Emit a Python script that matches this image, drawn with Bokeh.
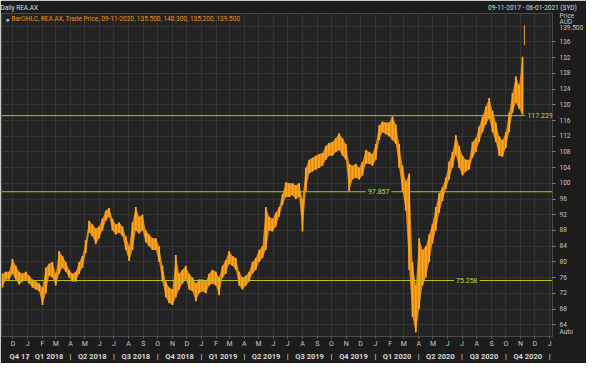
import pandas as pd
from bokeh.plotting import figure
from bokeh.models import (Range1d, FixedTicker, SingleIntervalTicker, DatetimeAxis,
                          Span, Label, ColumnDataSource)
from bokeh.embed import file_html
from bokeh.resources import INLINE

# ---------------- data ----------------
week_start = "2017-11-09"          # first weekly bar, then every 7 days
lows = [73.5, 75.5, 75.5, 77, 75.5, 74.25, 75, 75.5, 74.5, 73.5,
        73, 72.5, 69, 72, 76.5, 76, 74, 77, 78.5, 77.5,
        76, 75, 75, 77, 78.5, 82.25, 87.5, 86.5, 84.5, 86,
        88, 90.5, 91.5, 88, 87, 87.5, 86.5, 83, 80.25, 83,
        88, 87.25, 88, 85, 84, 83, 83, 80, 75, 71,
        69.5, 69, 71, 73, 74.5, 75.5, 73, 72.5, 70, 72,
        72.5, 72, 74, 74.5, 74, 71.5, 76, 77, 79.5, 79,
        78, 74, 73, 74, 75, 77, 78, 80, 81, 83,
        88, 87.75, 89, 91.5, 94.5, 96.5, 96.5, 97, 96, 96.5,
        87.75, 98, 102.5, 103, 103.5, 104, 104.5, 106, 107, 107,
        108, 108.5, 107, 106, 98, 101, 101.5, 101, 102, 105,
        105, 104.5, 106, 111, 113, 112.5, 112, 111, 110, 104,
        98, 93, 78, 66, 62, 68, 74, 76, 80, 84.75,
        88, 92.5, 95.5, 98.5, 101, 104, 107.25, 104, 102, 103,
        103.5, 106.5, 108, 110.5, 113, 115, 116.5, 113, 110.5, 107,
        106.75, 109, 113, 118, 120.5, 119, 117.5]
highs = [77, 77.5, 77.5, 80.75, 79, 77.5, 77, 77.5, 76.5, 75.5,
         75, 74.5, 73.5, 78.5, 79.5, 80, 77, 82.75, 81.5, 80,
         78, 77, 77.5, 80, 81.5, 85.5, 90.5, 89.5, 88.5, 89,
         91, 93, 93.75, 91, 89.5, 90, 89, 86.5, 84, 90,
         94, 91.5, 92, 88, 87, 86, 86, 84, 79, 75,
         73.5, 73, 81.75, 77, 78, 79, 77, 76, 74.5, 75.5,
         75.5, 75, 77, 78, 77.5, 76, 79, 80.5, 82.75, 81.5,
         81, 77.5, 76, 76.5, 77.5, 80, 81, 83, 84, 94,
         91.5, 91, 92.5, 94, 97.25, 100.25, 100, 100, 99.5, 100,
         96, 104, 106, 106.5, 107, 107.5, 107.75, 109.5, 110.25, 110.5,
         111.5, 112.75, 111.5, 110, 105, 104.5, 105, 104, 105.5, 108.5,
         108, 107.5, 110, 114.75, 115.75, 115.5, 115.5, 117, 115, 110,
         104.5, 100.5, 102.5, 80, 74, 86, 83, 84, 87, 89.75,
         94, 97.5, 99, 101.5, 105.5, 108, 112.25, 109.5, 107, 106,
         106, 110.5, 111.5, 114.5, 117, 119.5, 121.75, 118.5, 115.5, 112,
         111, 113, 118, 123, 127.25, 125, 132.25]

last_bar_date = "2020-11-09"
last_open, last_high, last_low, last_close = 135.5, 140.3, 135.2, 139.5

levels = [117.229, 97.857, 75.258]
level_label_dates = ["2020-12-12", "2020-01-08", "2020-07-11"]

title_text = "Daily REA.AX"
range_text = "09-11-2017 - 06-01-2021 (SYD)"
header_label_dates = ["2017-12-04", "2020-11-26"]

y_ticks = [64, 68, 72, 76, 80, 84, 88, 92, 96, 100, 104, 108, 112, 116,
           120, 124, 128, 132, 136]
side_labels = ["Price", "AUD", "Auto"]
side_label_levels = [142.7, 141.0, 62.2]
month_labels = ["D", "J", "F", "M", "A", "M", "J", "J", "A", "S", "O", "N",
                "D", "J", "F", "M", "A", "M", "J", "J", "A", "S", "O", "N",
                "D", "J", "F", "M", "A", "M", "J", "J", "A", "S", "O", "N",
                "D", "J"]
quarter_labels = ["Q4 17", "Q1 2018", "Q2 2018", "Q3 2018", "Q4 2018",
                  "Q1 2019", "Q2 2019", "Q3 2019", "Q4 2019",
                  "Q1 2020", "Q2 2020", "Q3 2020", "Q4 2020"]

# ---------------- styling ----------------
BG = "#232323"
BORDER = "#1c1c1c"
GRID = "#343434"
TXT = "#c8c8c8"
ORANGE = "#ffa726"
ORANGE_D = "#dc8812"
YEL = "#bebe1e"
FONT = "Roboto"


def ms(t):
    return int(pd.Timestamp(t).value // 10**6)


dates = pd.date_range(week_start, periods=len(lows), freq="7D")
src = ColumnDataSource(dict(x=dates, lo=lows, hi=highs))

p = figure(width=586, height=363, x_axis_type="datetime", y_axis_location="right",
           output_backend="svg", toolbar_location=None, title_location=None,
           x_range=Range1d(pd.Timestamp("2017-11-07"), pd.Timestamp("2021-01-07")),
           y_range=Range1d(61, 143.25),
           min_border_left=1, min_border_right=28, min_border_top=10,
           min_border_bottom=24)
p.background_fill_color = BG
p.border_fill_color = BORDER
p.outline_line_color = "#4a4a4a"


def bare(axis):
    axis.axis_line_color = None
    axis.major_tick_line_color = None
    axis.minor_tick_line_color = None
    axis.major_tick_in = 0
    axis.major_tick_out = 0
    axis.minor_tick_in = 0
    axis.minor_tick_out = 0
    axis.major_label_text_font = FONT


# ---- month axis (below) ----
month_pos = [ms(t) for t in pd.date_range("2017-12-01", periods=len(month_labels), freq="MS")]
month_ticker = FixedTicker(ticks=month_pos)
ax = p.xaxis[0]
bare(ax)
ax.ticker = month_ticker
ax.major_label_overrides = {m: l for m, l in zip(month_pos, month_labels)}
ax.major_tick_line_color = "#6a6a6a"
ax.major_tick_out = 2
ax.major_label_text_font_size = "7px"
ax.major_label_text_color = TXT
ax.major_label_standoff = 1

# ---- quarter axis (below) ----
q_starts = pd.date_range("2018-01-01", "2021-01-01", freq="QS")
q_mid = [ms("2017-12-15")] + [ms(a + (b - a) / 2) for a, b in zip(q_starts[:-1], q_starts[1:])]
q_sep = [ms(t) for t in q_starts]
q_over = {m: l for m, l in zip(q_mid, quarter_labels)}
q_over.update({s: "|" for s in q_sep})
qax = DatetimeAxis(ticker=FixedTicker(ticks=q_mid + q_sep), major_label_overrides=q_over)
bare(qax)
qax.major_label_text_font_size = "7.5px"
qax.major_label_text_font_style = "bold"
qax.major_label_text_color = "#d8d8d8"
qax.major_label_standoff = 1
p.add_layout(qax, "below")

# ---- header (above axis used as a title row) ----
h_pos = [ms(d) for d in header_label_dates]
hax = DatetimeAxis(ticker=FixedTicker(ticks=h_pos),
                   major_label_overrides={h_pos[0]: title_text, h_pos[1]: range_text})
bare(hax)
hax.major_label_text_font_size = "6.5px"
hax.major_label_text_color = "#dcdcdc"
hax.major_label_standoff = 2
p.add_layout(hax, "above")

# ---- price axis (right) ----
yax = p.yaxis[0]
bare(yax)
y_major = y_ticks + side_label_levels + [last_close]
y_over = {float(v): str(v) for v in y_ticks}
y_over.update({float(v): l for v, l in zip(side_label_levels, side_labels)})
y_over[float(last_close)] = f"{last_close:.3f}"
yax.ticker = FixedTicker(ticks=y_major, minor_ticks=y_ticks)
yax.major_label_overrides = y_over
yax.minor_tick_line_color = "#8a8a8a"
yax.minor_tick_out = 3
yax.major_label_text_font_size = "6.5px"
yax.major_label_text_color = TXT
yax.major_label_standoff = 4

p.xgrid.ticker = month_ticker
p.ygrid.ticker = SingleIntervalTicker(interval=4)
p.xgrid.grid_line_color = GRID
p.ygrid.grid_line_color = GRID

# ---- level lines ----
for lv, d in zip(levels, level_label_dates):
    p.add_layout(Span(location=lv, dimension="width", line_color=YEL, line_width=1))
    p.add_layout(Label(x=pd.Timestamp(d), y=lv, text=f"{lv:.3f}", text_align="center",
                       text_baseline="middle", text_color="#d4d44a", text_font_size="7px",
                       text_font=FONT, background_fill_color=BG, padding=2))

# ---- price bars ----
p.varea(x="x", y1="lo", y2="hi", source=src, fill_color=ORANGE_D, fill_alpha=1)
p.segment(x0="x", y0="lo", x1="x", y1="hi", source=src, line_color=ORANGE, line_width=1.8)
lb = pd.Timestamp(last_bar_date)
p.segment(x0=[lb], y0=[last_low], x1=[lb], y1=[last_high], line_color="#e8a040", line_width=1)

# ---- legend line (inside frame, just under its top edge) ----
legend_text = (f"BarOHLC, REA.AX, Trade Price, {lb.strftime('%d-%m-%Y')}, "
               f"{last_open:.3f}, {last_high:.3f}, {last_low:.3f}, {last_close:.3f}")
p.add_layout(Label(x=4, y=141.8, x_units="screen", text="\u25CF",
                   text_font_size="7px", text_color="#9cc4e8", text_baseline="middle"))
p.add_layout(Label(x=10, y=141.8, x_units="screen", text=legend_text,
                   text_font_size="6.5px", text_font=FONT, text_color="#e8951c",
                   text_baseline="middle"))

open("out.html", "w").write(file_html(p, INLINE))
